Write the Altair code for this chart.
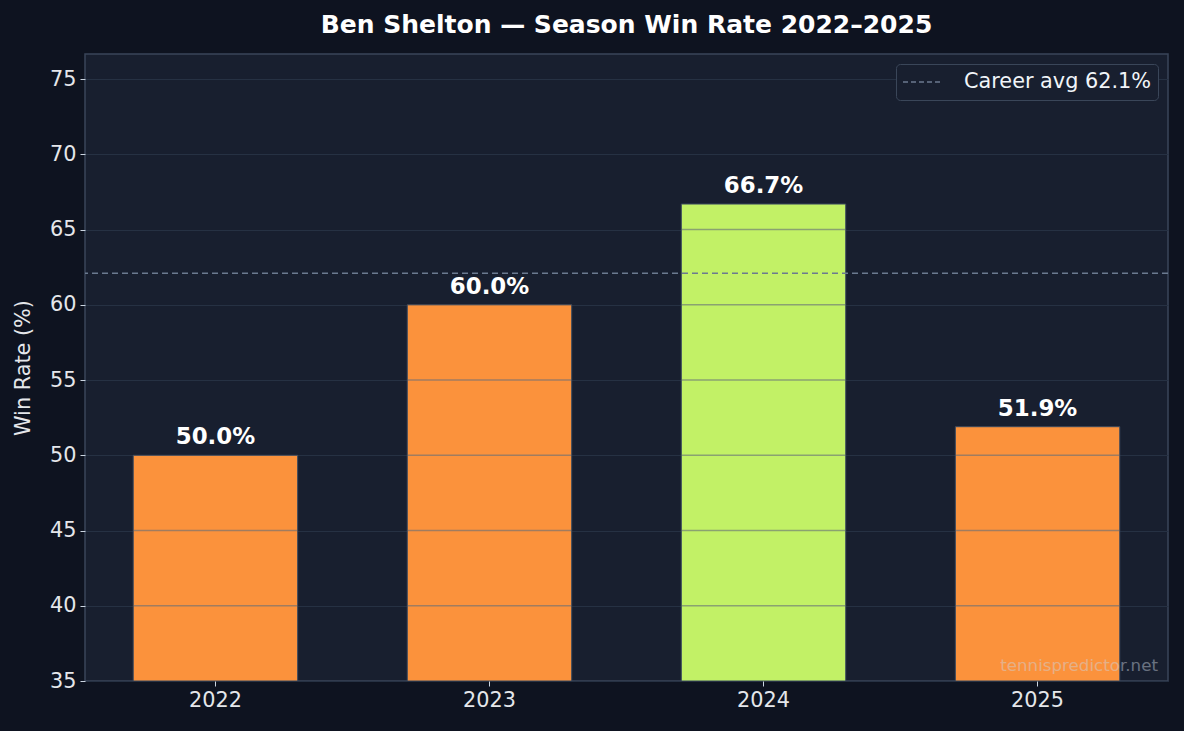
import altair as alt
import pandas as pd

seasons = ["2022", "2023", "2024", "2025"]
win_rates = [50.0, 60.0, 66.7, 51.9]
career_avg = 62.1
y_ticks = [35, 40, 45, 50, 55, 60, 65, 70, 75]

best = max(win_rates)
df = pd.DataFrame({
    "season": seasons,
    "rate": win_rates,
    "label": [f"{v:.1f}%" for v in win_rates],
    "kind": ["best" if v == best else "other" for v in win_rates],
})
avg_df = pd.DataFrame({"avg": [career_avg], "name": [f"Career avg {career_avg}%"]})
# grid segments visible on top of the bars
grid_df = pd.DataFrame([{"season": s, "tick": t} for s, v in zip(seasons, win_rates)
                        for t in y_ticks if 35 < t < v])

FONT = "DejaVu Sans"
x_enc = alt.X("season:N", sort=seasons, title=None,
              scale=alt.Scale(paddingInner=0.4, paddingOuter=0.176),
              axis=alt.Axis(labelAngle=0, labelFontSize=20.8, labelColor="#e5e7eb",
                            tickColor="#cbd5e1", tickSize=5, labelPadding=4,
                            domain=False, grid=False))
y_scale = alt.Scale(domain=[35, 76.67], nice=False, zero=False)

bars = alt.Chart(df).mark_bar(stroke="#3b4a5e", strokeWidth=1, clip=True).encode(
    x=x_enc,
    y=alt.Y("rate:Q", scale=y_scale, title="Win Rate (%)",
            axis=alt.Axis(values=y_ticks, labelFontSize=20.8, labelColor="#e5e7eb",
                          tickColor="#cbd5e1", tickSize=5, labelPadding=4, domain=False,
                          grid=True, gridColor="#263143", gridWidth=1.2,
                          titleFontSize=20.8, titleColor="#e5e7eb",
                          titleFontWeight="normal", titlePadding=16)),
    y2=alt.datum(35),
    color=alt.Color("kind:N", scale=alt.Scale(domain=["best", "other"],
                                                range=["#c2f166", "#fb923c"]), legend=None),
)

bar_grid = alt.Chart(grid_df).mark_tick(size=163, thickness=1.5, color="#646e78",
                                        opacity=0.6).encode(
    x=alt.X("season:N", sort=seasons),
    y=alt.Y("tick:Q", scale=y_scale),
)

labels = alt.Chart(df).mark_text(fontSize=22.9, fontWeight="bold", color="#ffffff",
                                 baseline="bottom", dy=-6, font=FONT).encode(
    x=alt.X("season:N", sort=seasons),
    y=alt.Y("rate:Q", scale=y_scale),
    text="label:N",
)

avg_rule = alt.Chart(avg_df).mark_rule(strokeDash=[6, 4], strokeWidth=1.5).encode(
    y=alt.Y("avg:Q", scale=y_scale),
    color=alt.Color("name:N", scale=alt.Scale(range=["#6b7a90"]),
                    legend=alt.Legend(title=None, orient="none", legendX=811, legendY=10,
                                      symbolType="stroke", symbolDash=[5, 3],
                                      symbolStrokeWidth=1.5, symbolSize=1600,
                                      clipHeight=24, labelLimit=0,
                                      labelFontSize=20.8, labelColor="#f1f5f9",
                                      fillColor="#181f2f", strokeColor="#3a4659",
                                      cornerRadius=4, padding=6, labelOffset=20)),
)

watermark = alt.Chart(pd.DataFrame({"t": ["tennispredictor.net"]})).mark_text(
    align="right", baseline="middle", fontSize=16.7, color="#cbd5e1", opacity=0.45,
    font=FONT).encode(x=alt.value(1073), y=alt.value(612), text="t:N")

chart = alt.layer(bars, bar_grid, labels, avg_rule, watermark).resolve_scale(
    color="independent"
).properties(
    width=1083, height=627,
    autosize=alt.AutoSizeParams(type="none"),
    padding={"left": 85, "top": 54, "right": 16, "bottom": 50},
    background="#0e1320",
    title=alt.TitleParams("Ben Shelton — Season Win Rate 2022–2025", fontSize=25,
                          fontWeight="bold", color="#ffffff", anchor="middle",
                          offset=16, font=FONT),
).configure(font=FONT).configure_view(fill="#181f2f", stroke="#3a4659", strokeWidth=1.5)

chart.save("out.html", embed_options={"renderer": "svg", "actions": False})
